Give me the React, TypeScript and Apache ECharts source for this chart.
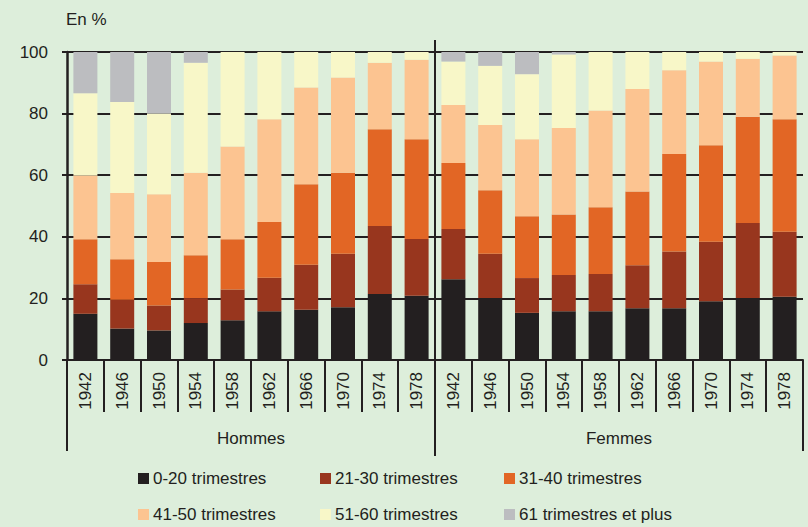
import React, { useEffect, useRef } from "react";
import * as echarts from "echarts";

const years = ["1942", "1946", "1950", "1954", "1958", "1962", "1966", "1970", "1974", "1978"];
const categories = [...years, ...years];
const groups = ["Hommes", "Femmes"];
const seriesNames = [
  "0-20 trimestres",
  "21-30 trimestres",
  "31-40 trimestres",
  "41-50 trimestres",
  "51-60 trimestres",
  "61 trimestres et plus",
];
const colors = ["#231f20", "#98361e", "#e26625", "#fcc491", "#f8f7c8", "#bcbdc0"];

const s0_20 = [15.0, 10.2, 9.6, 12.0, 12.9, 15.8, 16.3, 17.1, 21.4, 20.9, 26.2, 20.1, 15.3, 15.8, 15.8, 16.8, 16.8, 19.1, 20.1, 20.5];
const s21_30 = [9.6, 9.4, 8.1, 8.1, 10.0, 10.9, 14.6, 17.4, 22.1, 18.4, 16.3, 14.4, 11.3, 11.8, 12.1, 14.0, 18.4, 19.3, 24.4, 21.1];
const s31_40 = [14.6, 13.1, 14.1, 13.9, 16.3, 18.1, 26.2, 26.3, 31.4, 32.4, 21.5, 20.6, 20.1, 19.6, 21.7, 23.9, 31.7, 31.3, 34.5, 36.6];
const s41_50 = [20.7, 21.5, 22.0, 26.8, 30.1, 33.4, 31.4, 30.9, 21.6, 25.8, 18.8, 21.2, 25.0, 28.1, 31.4, 33.3, 27.2, 27.2, 18.8, 20.7];
const s51_60 = [26.7, 29.6, 26.2, 35.7, 30.7, 21.8, 11.5, 8.3, 3.5, 2.5, 14.1, 19.2, 21.1, 23.9, 19.0, 12.0, 5.9, 3.1, 2.2, 1.1];
const s61 = [13.4, 16.2, 20.0, 3.5, 0, 0, 0, 0, 0, 0, 3.1, 4.5, 7.2, 0.8, 0, 0, 0, 0, 0, 0];
const seriesData = [s0_20, s21_30, s31_40, s41_50, s51_60, s61];

const yTicks = { min: 0, max: 100, interval: 20 };

const FONT = "'Liberation Sans', Arial, sans-serif";
const INK = "#231f20";

export default function App() {
  const ref = useRef<HTMLDivElement>(null);
  useEffect(() => {
    if (!ref.current) return;
    const chart = echarts.init(ref.current, undefined, { renderer: "svg" });
    const legendPos = [
      { left: 138, top: 470 },
      { left: 320, top: 470 },
      { left: 504, top: 470 },
      { left: 138, top: 506 },
      { left: 320, top: 506 },
      { left: 504, top: 506 },
    ];
    chart.setOption({
      animation: false,
      backgroundColor: "#ddeedb",
      textStyle: { fontFamily: FONT, color: INK },
      grid: { left: 67, right: 5, top: 52, bottom: 167, containLabel: false },
      legend: seriesNames.map((n, i) => ({
        data: [n],
        left: legendPos[i].left,
        top: legendPos[i].top,
        padding: 0,
        itemWidth: 11,
        itemHeight: 11,
        itemGap: 0,
        icon: "rect",
        selectedMode: false,
        textStyle: { fontSize: 17, color: INK, fontFamily: FONT, padding: [0, 0, 0, -1] },
      })),
      xAxis: [
        {
          type: "category",
          data: categories,
          axisLine: { show: true, lineStyle: { color: INK, width: 2 } },
          axisTick: { show: true, interval: 0, length: 52, lineStyle: { color: INK, width: 2 } },
          axisLabel: { interval: 0, rotate: 90, margin: 12, fontSize: 17, color: INK, fontFamily: FONT },
        },
        {
          type: "category",
          data: groups,
          position: "bottom",
          axisLine: { show: false },
          axisTick: { show: true, interval: 0, length: 91, lineStyle: { color: INK, width: 2 } },
          axisLabel: { interval: 0, margin: 70, fontSize: 17, color: INK, fontFamily: FONT },
        },
      ],
      yAxis: {
        type: "value",
        min: yTicks.min,
        max: yTicks.max,
        interval: yTicks.interval,
        axisLine: { show: true, lineStyle: { color: INK, width: 2.5 } },
        axisTick: { show: true, length: 5, lineStyle: { color: INK, width: 2 } },
        axisLabel: { fontSize: 17, color: INK, margin: 19, fontFamily: FONT },
        splitLine: { show: true, lineStyle: { color: INK, width: 2 } },
      },
      series: seriesNames.map((n, i) => ({
        name: n,
        type: "bar",
        stack: "total",
        xAxisIndex: 0,
        data: seriesData[i],
        barWidth: 24,
        itemStyle: { color: colors[i] },
        emphasis: { disabled: true },
      })),
      graphic: [
        {
          type: "line",
          shape: { x1: 435, y1: 40, x2: 435, y2: 456 },
          style: { stroke: INK, lineWidth: 2 },
          z: 100,
        },
        {
          type: "text",
          left: 66,
          top: 11,
          style: { text: "En %", fontSize: 17, fill: INK, fontFamily: FONT },
        },
      ],
    });
    return () => chart.dispose();
  }, []);
  return <div ref={ref} style={{ position: "fixed", left: 0, top: 0, width: 808, height: 527 }} />;
}
